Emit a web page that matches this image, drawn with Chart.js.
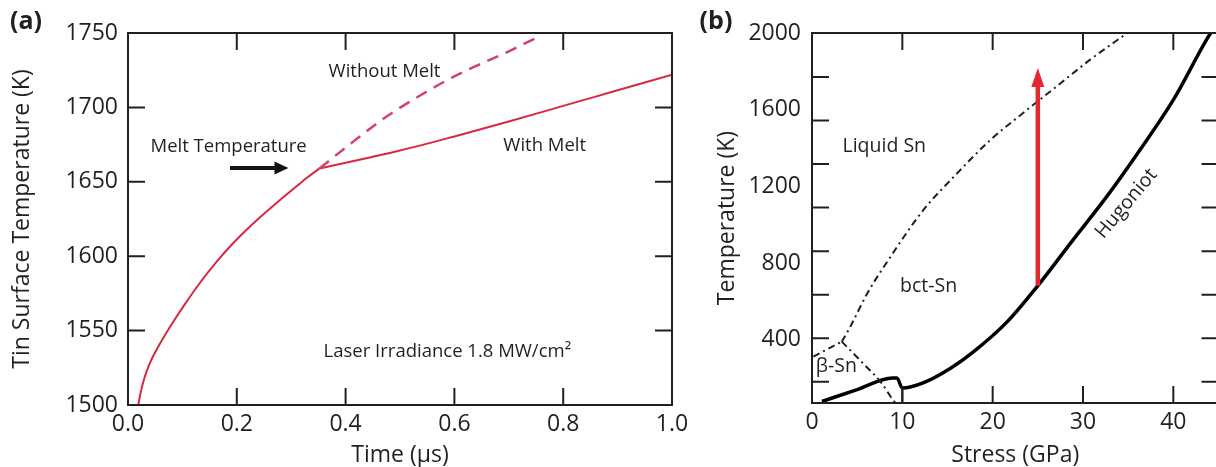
<!DOCTYPE html>
<html>
<head>
<meta charset="utf-8">
<script src="https://cdn.jsdelivr.net/npm/chart.js@4.4.1/dist/chart.umd.min.js"></script>
<style>
  html, body { margin: 0; padding: 0; background: #fff; }
  body { width: 1216px; height: 467px; overflow: hidden; position: relative; }
  canvas { position: absolute; top: 0; }
  #chartA { left: 0; }
  #chartB { left: 690px; }
</style>
</head>
<body>
<canvas id="chartA" width="690" height="467"></canvas>
<canvas id="chartB" width="540" height="467"></canvas>
<script>
// (a) surface temperature vs time, heating part is shared by both cases
var timeHeating = [0.019, 0.023, 0.03, 0.04, 0.053, 0.068, 0.085, 0.105, 0.13, 0.16, 0.19, 0.22, 0.25, 0.28, 0.31, 0.33, 0.352];
var tempHeating = [1500, 1508, 1518, 1528, 1537.5, 1547, 1557, 1568, 1581, 1595, 1607.5, 1618.5, 1628.5, 1638, 1647, 1653, 1659];
var timeWithMelt = [0.352, 0.44, 0.5, 0.6, 0.7, 0.8, 0.9, 1.0];
var tempWithMelt = [1659, 1666, 1671, 1680.5, 1690.5, 1701, 1711.5, 1722];
var timeNoMelt = [0.352, 0.414, 0.476, 0.537, 0.598, 0.647, 0.702, 0.752];
var tempNoMelt = [1659, 1677, 1694, 1708, 1720.5, 1729, 1738, 1747];
var timeTicks = [0, 0.2, 0.4, 0.6, 0.8, 1.0];
var tempTicksA = [1500, 1550, 1600, 1650, 1700, 1750];

// (b) tin phase diagram
var hugStress = [1.1, 5.0, 8.9, 9.4, 10.0, 12.3, 15.3, 17.9, 21.6, 24.9, 28.9, 32.6, 36.3, 40.0, 44.0, 44.3];
var hugTemp = [78, 140, 201, 201, 148, 175, 250, 338, 493, 676, 921, 1145, 1390, 1651, 1990, 2010];
var betaLiqStress = [0.15, 3.3];
var betaLiqTemp = [312, 390];
var liqStress = [3.3, 4.24, 6.1, 8.65, 12.3, 16.1, 19.7, 23.4, 27.1, 30.8, 34.9];
var liqTemp = [390, 468, 640, 830, 1075, 1270, 1440, 1584, 1722, 1861, 2000];
var betaStress = [3.3, 5.8, 7.7, 9.1, 9.3];
var betaTemp = [390, 270, 174, 78, 70];
var wallStress = [10, 10];
var wallTemp = [70, 148];
var stressTicks = [0, 10, 20, 30, 40];
var tempLabelsB = [2000, 1600, 1200, 800, 400];
var tempMarksB = [1770, 1543, 1317, 1090, 862, 635, 408, 181];

var INK = '#231f20';
Chart.defaults.font.family = "'Open Sans', sans-serif";
Chart.defaults.color = INK;

function pts(xs, ys) {
  return xs.map(function (v, i) { return { x: v, y: ys[i] }; });
}

// box round the plot with inward ticks on all four sides
var framePlugin = {
  id: 'frame',
  afterDatasetsDraw: function (chart, args, opts) {
    var ctx = chart.ctx, a = chart.chartArea, x = chart.scales.x, y = chart.scales.y;
    ctx.save();
    ctx.strokeStyle = INK;
    ctx.lineWidth = 2;
    ctx.strokeRect(a.left, a.top, a.right - a.left, a.bottom - a.top);
    ctx.beginPath();
    opts.xMarks.forEach(function (v) {
      var px = x.getPixelForValue(v);
      ctx.moveTo(px, a.bottom); ctx.lineTo(px, a.bottom - 17);
      ctx.moveTo(px, a.top); ctx.lineTo(px, a.top + 17);
    });
    opts.yMarks.forEach(function (v) {
      var py = y.getPixelForValue(v);
      ctx.moveTo(a.left, py); ctx.lineTo(a.left + 17, py);
      ctx.moveTo(a.right, py); ctx.lineTo(a.right - 17, py);
    });
    ctx.stroke();
    ctx.restore();
  }
};

// text labels, arrows and the panel letter
var notesPlugin = {
  id: 'notes',
  afterDatasetsDraw: function (chart, args, opts) {
    var ctx = chart.ctx, x = chart.scales.x, y = chart.scales.y;
    ctx.save();
    (opts.arrows || []).forEach(function (ar) {
      var x0 = x.getPixelForValue(ar.from[0]), y0 = y.getPixelForValue(ar.from[1]);
      var x1 = x.getPixelForValue(ar.to[0]), y1 = y.getPixelForValue(ar.to[1]);
      var len = Math.hypot(x1 - x0, y1 - y0), ux = (x1 - x0) / len, uy = (y1 - y0) / len;
      var bx = x1 - ux * ar.head, by = y1 - uy * ar.head;
      ctx.strokeStyle = ar.color;
      ctx.fillStyle = ar.color;
      ctx.lineWidth = ar.width;
      ctx.beginPath();
      ctx.moveTo(x0, y0);
      ctx.lineTo(bx + ux, by + uy);
      ctx.stroke();
      ctx.beginPath();
      ctx.moveTo(x1, y1);
      ctx.lineTo(bx - uy * ar.half, by + ux * ar.half);
      ctx.lineTo(bx + uy * ar.half, by - ux * ar.half);
      ctx.closePath();
      ctx.fill();
    });
    ctx.fillStyle = INK;
    ctx.textAlign = 'center';
    ctx.textBaseline = 'middle';
    (opts.labels || []).forEach(function (l) {
      ctx.save();
      ctx.font = opts.size + "px 'Open Sans'";
      ctx.translate(x.getPixelForValue(l.x), y.getPixelForValue(l.y));
      if (l.rot) ctx.rotate(l.rot * Math.PI / 180);
      ctx.fillText(l.text, 0, 0);
      ctx.restore();
    });
    ctx.font = "bold 25px 'Open Sans'";
    ctx.fillText(opts.panel, 26, 22);
    ctx.restore();
  }
};

function tickAxis(values) {
  return function (axis) {
    axis.ticks = values.map(function (v) { return { value: v }; });
  };
}

function axisText(size) {
  return { size: size, lineHeight: 1 };
}

function curve(xs, ys, color, width, dash) {
  return {
    data: pts(xs, ys), borderColor: color, borderWidth: width, borderDash: dash || [],
    pointRadius: 0, cubicInterpolationMode: 'monotone'
  };
}

new Chart(document.getElementById('chartA'), {
  type: 'line',
  data: {
    datasets: [
      curve(timeNoMelt, tempNoMelt, '#d4406a', 2.5, [12, 8]),
      curve(timeWithMelt, tempWithMelt, '#d8283f', 2),
      curve(timeHeating, tempHeating, '#d8283f', 2)
    ]
  },
  options: {
    responsive: false,
    animation: false,
    layout: { padding: { top: 33, right: 18, left: 0, bottom: 0 } },
    plugins: {
      legend: { display: false },
      tooltip: { enabled: false },
      frame: { xMarks: timeTicks, yMarks: tempTicksA },
      notes: {
        panel: '(a)',
        size: 18.5,
        labels: [
          { text: 'Without Melt', x: 0.4715, y: 1724 },
          { text: 'Melt Temperature', x: 0.185, y: 1673.5 },
          { text: 'With Melt', x: 0.766, y: 1674.5 },
          { text: 'Laser Irradiance 1.8 MW/cm²', x: 0.587, y: 1535.5 }
        ],
        arrows: [
          { from: [0.1875, 1659.3], to: [0.295, 1659.3], color: '#111', width: 4, head: 14, half: 6.5 }
        ]
      }
    },
    scales: {
      x: {
        type: 'linear', min: 0, max: 1,
        grid: { display: false, drawTicks: false }, border: { display: false },
        afterBuildTicks: tickAxis(timeTicks),
        afterFit: function (s) { s.height = 62; s.paddingLeft = 0; s.paddingRight = 0; },
        ticks: { padding: 6, font: { size: 23 }, color: INK, maxRotation: 0, autoSkip: false,
          callback: function (v) { return v.toFixed(1); } },
        title: { display: true, text: 'Time (µs)', font: axisText(23), color: INK, padding: { top: 0, bottom: 0 } }
      },
      y: {
        type: 'linear', min: 1500, max: 1750,
        grid: { display: false, drawTicks: false }, border: { display: false },
        afterBuildTicks: tickAxis(tempTicksA),
        afterFit: function (s) { s.width = 128; s.paddingTop = 0; s.paddingBottom = 0; },
        ticks: { padding: 10, font: { size: 23 }, color: INK, autoSkip: false,
          callback: function (v) { return String(v); } },
        title: { display: true, text: 'Tin Surface Temperature (K)', font: axisText(23), color: INK, padding: { top: 11, bottom: 0 } }
      }
    }
  },
  plugins: [framePlugin, notesPlugin]
});

var dashDot = [7, 4, 2, 4];

new Chart(document.getElementById('chartB'), {
  type: 'line',
  data: {
    datasets: [
      curve(betaLiqStress, betaLiqTemp, INK, 2, dashDot),
      curve(liqStress, liqTemp, INK, 2, dashDot),
      curve(betaStress, betaTemp, INK, 2, dashDot),
      curve(wallStress, wallTemp, INK, 2),
      curve(hugStress, hugTemp, '#000', 3.5)
    ]
  },
  options: {
    responsive: false,
    animation: false,
    layout: { padding: { top: 33, right: 11.5, left: 0, bottom: 0 } },
    plugins: {
      legend: { display: false },
      tooltip: { enabled: false },
      frame: { xMarks: stressTicks.slice(1), yMarks: tempMarksB },
      notes: {
        panel: '(b)',
        size: 19.5,
        labels: [
          { text: 'Liquid Sn', x: 8.0, y: 1407 },
          { text: 'bct-Sn', x: 12.9, y: 677 },
          { text: 'β-Sn', x: 2.7, y: 259 },
          { text: 'Hugoniot', x: 34.8, y: 1110, rot: -50 }
        ],
        arrows: [
          { from: [25.0, 682], to: [25.0, 1817], color: '#e3262f', width: 4.5, head: 19, half: 6.5 }
        ]
      }
    },
    scales: {
      x: {
        type: 'linear', min: 0, max: 45,
        grid: { display: false, drawTicks: false }, border: { display: false },
        afterBuildTicks: tickAxis(stressTicks),
        afterFit: function (s) { s.height = 64; s.paddingLeft = 0; s.paddingRight = 0; },
        ticks: { padding: 6, font: { size: 23 }, color: INK, maxRotation: 0, autoSkip: false,
          callback: function (v) { return String(v); } },
        title: { display: true, text: 'Stress (GPa)', font: axisText(23), color: INK, padding: { top: 0, bottom: 0 } }
      },
      y: {
        type: 'linear', min: 70, max: 2000,
        grid: { display: false, drawTicks: false }, border: { display: false },
        afterBuildTicks: tickAxis(tempLabelsB),
        afterFit: function (s) { s.width = 122; s.paddingTop = 0; s.paddingBottom = 0; },
        ticks: { padding: 11, font: { size: 23 }, color: INK, autoSkip: false,
          callback: function (v) { return String(v); } },
        title: { display: true, text: 'Temperature (K)', font: axisText(23), color: INK, padding: { top: 25.5, bottom: 0 } }
      }
    }
  },
  plugins: [framePlugin, notesPlugin]
});
</script>
</body>
</html>
